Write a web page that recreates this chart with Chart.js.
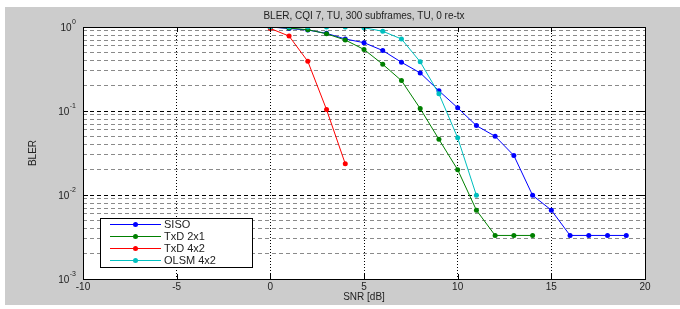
<!DOCTYPE html>
<html>
<head>
<meta charset="utf-8">
<script src="https://cdn.jsdelivr.net/npm/chart.js@4"></script>
<style>
  html, body { margin: 0; padding: 0; background: #fff; }
  canvas { display: block; }
</style>
</head>
<body>
<canvas id="bler" width="680" height="309"></canvas>
<script>
//data
const seriesNames = ['SISO', 'TxD 2x1', 'TxD 4x2', 'OLSM 4x2'];
const seriesColors = ['#0000ff', '#008000', '#ff0000', '#00bfbf'];

const snrSiso = [0, 1, 2, 3, 4, 5, 6, 7, 8, 9, 10, 11, 12, 13, 14, 15, 16, 17, 18, 19];
const blerSiso = [1.0, 0.96, 0.92, 0.84, 0.72, 0.65, 0.525, 0.38, 0.284, 0.174, 0.109, 0.067, 0.05, 0.0295, 0.0099, 0.0066, 0.0033, 0.0033, 0.0033, 0.0033];

const snrTxd21 = [0, 1, 2, 3, 4, 5, 6, 7, 8, 9, 10, 11, 12, 13, 14];
const blerTxd21 = [1.0, 0.97, 0.93, 0.83, 0.70, 0.54, 0.36, 0.23, 0.107, 0.046, 0.020, 0.0066, 0.0033, 0.0033, 0.0033];

const snrTxd42 = [0, 1, 2, 3, 4];
const blerTxd42 = [0.96, 0.78, 0.39, 0.104, 0.0235];

const snrOlsm = [0, 1, 2, 3, 4, 5, 6, 7, 8, 9, 10, 11];
const blerOlsm = [1.0, 1.0, 1.0, 1.0, 1.0, 0.98, 0.89, 0.72, 0.385, 0.16, 0.048, 0.0099];

const xTicks = [-10, -5, 0, 5, 10, 15, 20];
const yDecades = [0.001, 0.01, 0.1, 1];
const yExponents = ['-3', '-2', '-1', '0'];

const titleText = 'BLER, CQI 7, TU, 300 subframes, TU, 0 re-tx';
const xTitle = 'SNR [dB]';
const yTitle = 'BLER';

function toPoints(xs, ys) {
  return xs.map((x, i) => ({ x: x, y: ys[i] }));
}

const allX = [snrSiso, snrTxd21, snrTxd42, snrOlsm];
const allY = [blerSiso, blerTxd21, blerTxd42, blerOlsm];

//last series drawn on top, like matlab
const datasets = seriesNames.map((name, i) => ({
  label: name,
  data: toPoints(allX[i], allY[i]),
  order: seriesNames.length - i,
  borderColor: seriesColors[i],
  backgroundColor: seriesColors[i],
  borderWidth: 1,
  pointRadius: 2.5,
  pointHoverRadius: 2.5,
  pointBorderWidth: 0,
  tension: 0
}));

//every minor tick 1..9 x 10^k gets a grid line
const yGridValues = [];
yDecades.forEach((d, i) => {
  if (i === yDecades.length - 1) { yGridValues.push(d); return; }
  for (let m = 1; m <= 9; m++) yGridValues.push(+(m * d).toPrecision(3));
});

function isDecade(v) {
  const l = Math.log10(v);
  return Math.abs(l - Math.round(l)) < 1e-6;
}

const FONT = '"Liberation Sans", Arial, sans-serif';

//gray frame, white plot box, titles, box border and legend
const matlabLook = {
  id: 'matlabLook',
  beforeDraw(chart) {
    const c = chart.ctx, a = chart.chartArea;
    c.save();
    c.fillStyle = '#cccccc';
    c.fillRect(5, 7, 675, 298);
    c.fillStyle = '#ffffff';
    c.fillRect(a.left, a.top, a.right - a.left, a.bottom - a.top);
    c.restore();
  },
  afterDraw(chart) {
    const c = chart.ctx, a = chart.chartArea;
    const xs = chart.scales.x, ys = chart.scales.y;
    c.save();
    c.strokeStyle = '#000';
    c.lineWidth = 1;
    c.setLineDash([]);
    c.strokeRect(Math.round(a.left) + 0.5, Math.round(a.top) + 0.5, Math.round(a.right - a.left), Math.round(a.bottom - a.top));

    //small inward tick marks
    c.beginPath();
    xTicks.forEach(v => {
      const px = Math.round(xs.getPixelForValue(v)) + 0.5;
      c.moveTo(px, a.bottom); c.lineTo(px, a.bottom - 5);
      c.moveTo(px, a.top); c.lineTo(px, a.top + 5);
    });
    yDecades.forEach(v => {
      const py = Math.round(ys.getPixelForValue(v)) + 0.5;
      c.moveTo(a.left, py); c.lineTo(a.left + 5, py);
      c.moveTo(a.right, py); c.lineTo(a.right - 5, py);
    });
    c.stroke();

    c.fillStyle = '#222';
    c.font = '10px ' + FONT;
    c.textAlign = 'center';
    c.textBaseline = 'middle';
    c.fillText(titleText, (a.left + a.right) / 2, 16);
    c.fillText(xTitle, (a.left + a.right) / 2, 297);

    //y labels as 10 with raised exponent
    yDecades.forEach((v, i) => {
      const py = ys.getPixelForValue(v);
      c.font = '7px ' + FONT;
      c.textAlign = 'left';
      const ew = c.measureText(yExponents[i]).width;
      const ex = 76 - ew;
      c.fillText(yExponents[i], ex, py - 5);
      c.font = '10px ' + FONT;
      c.textAlign = 'right';
      c.fillText('10', ex - 0.5, py + 1);
    });

    c.textAlign = 'center';
    c.font = '10px ' + FONT;
    c.translate(33, (a.top + a.bottom) / 2);
    c.rotate(-Math.PI / 2);
    c.fillText(yTitle, 0, 0);
    c.restore();

    //legend box
    const lx = 100, ly = 218, lw = 152, lh = 49;
    c.save();
    c.fillStyle = '#fff';
    c.fillRect(lx, ly, lw, lh);
    c.strokeStyle = '#000';
    c.lineWidth = 1;
    c.strokeRect(lx + 0.5, ly + 0.5, lw, lh);
    c.font = '11px ' + FONT;
    c.textAlign = 'left';
    c.textBaseline = 'middle';
    seriesNames.forEach((name, i) => {
      const yy = 224 + i * 12;
      c.strokeStyle = seriesColors[i];
      c.beginPath();
      c.moveTo(110, yy + 0.5);
      c.lineTo(161, yy + 0.5);
      c.stroke();
      c.fillStyle = seriesColors[i];
      c.beginPath();
      c.arc(135.5, yy + 0.5, 2.5, 0, Math.PI * 2);
      c.fill();
      c.fillStyle = '#222';
      c.fillText(name, 164, yy + 1);
    });
    c.restore();
  }
};

new Chart(document.getElementById('bler'), {
  type: 'line',
  data: { datasets: datasets },
  options: {
    responsive: false,
    animation: false,
    layout: { padding: { left: 0, right: 35, top: 27, bottom: 0 } },
    plugins: {
      legend: { display: false },
      title: { display: false },
      tooltip: { enabled: false }
    },
    scales: {
      x: {
        type: 'linear',
        min: -10,
        max: 20,
        afterBuildTicks: s => { s.ticks = xTicks.map(v => ({ value: v })); },
        afterFit: s => { s.height = 30; },
        ticks: {
          color: '#222',
          font: { family: FONT, size: 10 },
          padding: 2,
          maxRotation: 0,
          autoSkip: false
        },
        grid: { color: '#000', lineWidth: 1, drawTicks: false },
        border: { display: false, dash: [1, 2] }
      },
      y: {
        type: 'logarithmic',
        min: 0.001,
        max: 1,
        afterBuildTicks: s => { s.ticks = yGridValues.map(v => ({ value: v })); },
        afterFit: s => { s.width = 83; },
        ticks: { display: false },
        grid: {
          drawTicks: false,
          lineWidth: 1,
          color: ctx => (ctx.tick && isDecade(ctx.tick.value)) ? '#000' : '#8a8a8a'
        },
        border: { display: false, dash: [4, 3] }
      }
    }
  },
  plugins: [matlabLook]
});
</script>
</body>
</html>
